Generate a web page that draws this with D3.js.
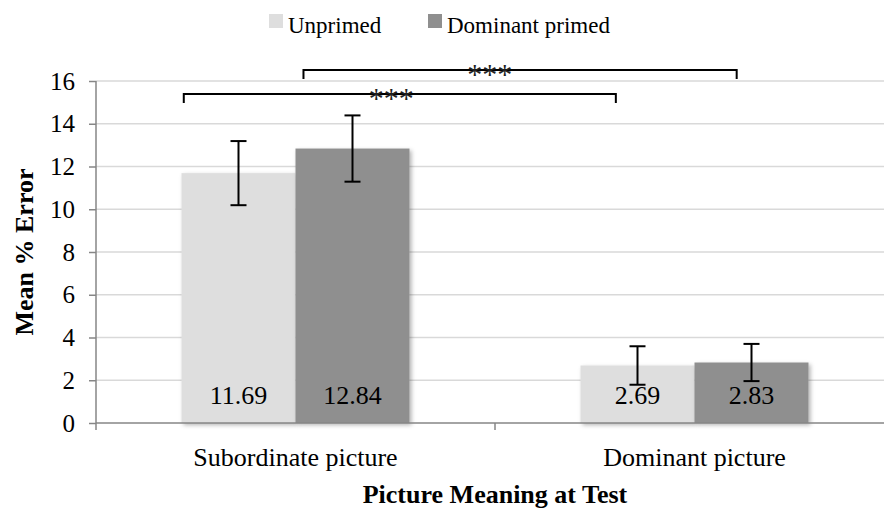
<!DOCTYPE html>
<html>
<head>
<meta charset="utf-8">
<script src="https://cdn.jsdelivr.net/npm/d3@7/dist/d3.min.js"></script>
<style>
  html, body { margin: 0; padding: 0; background: #fff; }
  svg { display: block; font-family: "Liberation Serif", "Times New Roman", serif; }
</style>
</head>
<body>
<div id="chart"></div>
<script>
// 数据
const categories = ['Subordinate picture', 'Dominant picture'];
const seriesNames = ['Unprimed', 'Dominant primed'];
const unprimed = [11.69, 2.69];
const dominantPrimed = [12.84, 2.83];
const unprimedErr = [1.5, 0.9];
const dominantPrimedErr = [1.55, 0.87];
const yTicks = [0, 2, 4, 6, 8, 10, 12, 14, 16];
// 显著性标注：series 索引 + 标记
const sigSeries = [0, 1];
const sigLabels = ['***', '***'];
const sigLevels = [15.39, 16.51];

const seriesValues = [unprimed, dominantPrimed];
const seriesErrs = [unprimedErr, dominantPrimedErr];
const colors = ['#dedede', '#8f8f8f'];
const serif = '"Liberation Serif", "Times New Roman", serif';

const width = 884, height = 511;
const margin = { left: 96, right: -10, top: 81, bottom: 88 };

const svg = d3.select('#chart').append('svg')
  .attr('width', width).attr('height', height)
  .attr('viewBox', `0 0 ${width} ${height}`)
  .attr('font-family', serif);

const defs = svg.append('defs');
const shadow = defs.append('filter').attr('id', 'shadow')
  .attr('x', '-10%').attr('y', '-10%').attr('width', '130%').attr('height', '130%');
shadow.append('feDropShadow')
  .attr('dx', 2).attr('dy', 2).attr('stdDeviation', 2)
  .attr('flood-color', '#000').attr('flood-opacity', 0.3);

const x0 = d3.scaleBand().domain(categories)
  .range([margin.left, width - margin.right]).paddingInner(0).paddingOuter(0);
const x1 = d3.scaleBand().domain(d3.range(seriesNames.length))
  .range([0, x0.bandwidth()]).paddingInner(0).paddingOuter(0.75);
const y = d3.scaleLinear().domain([0, 16]).range([height - margin.bottom, margin.top]);

// 网格线
svg.append('g').selectAll('line').data(yTicks.filter(d => d > 0)).join('line')
  .attr('x1', margin.left).attr('x2', width)
  .attr('y1', d => y(d)).attr('y2', d => y(d))
  .attr('stroke', '#d9d9d9').attr('stroke-width', 1.5);

// 柱子
const rows = [];
categories.forEach((c, ci) => seriesNames.forEach((s, si) => rows.push({
  c, ci, si, v: seriesValues[si][ci], e: seriesErrs[si][ci]
})));

svg.append('g').selectAll('rect').data(rows).join('rect')
  .attr('x', d => x0(d.c) + x1(d.si))
  .attr('y', d => y(d.v))
  .attr('width', x1.bandwidth())
  .attr('height', d => y(0) - y(d.v))
  .attr('fill', d => colors[d.si])
  .attr('filter', 'url(#shadow)');

// 坐标轴
const yAxis = svg.append('g')
  .attr('transform', `translate(${margin.left},0)`)
  .call(d3.axisLeft(y).tickValues(yTicks).tickSize(7).tickPadding(14).tickFormat(d3.format('d')))
  .attr('font-family', serif);
yAxis.select('.domain').attr('stroke', '#868686').attr('stroke-width', 1.5)
  .attr('d', `M0,${y(16)}V${y(0) + 7}`);
yAxis.selectAll('.tick line').attr('stroke', '#868686').attr('stroke-width', 1.5);
yAxis.selectAll('.tick text').attr('font-size', 25).attr('fill', '#000');

const xg = svg.append('g');
xg.append('line').attr('x1', margin.left).attr('x2', width)
  .attr('y1', y(0)).attr('y2', y(0))
  .attr('stroke', '#868686').attr('stroke-width', 1.5);
xg.selectAll('line.tk').data(categories.slice(1)).join('line').attr('class', 'tk')
  .attr('x1', d => x0(d)).attr('x2', d => x0(d))
  .attr('y1', y(0)).attr('y2', y(0) + 7)
  .attr('stroke', '#868686').attr('stroke-width', 1.5);
xg.selectAll('text').data(categories).join('text')
  .attr('x', d => x0(d) + x0.bandwidth() / 2)
  .attr('y', 466)
  .attr('text-anchor', 'middle')
  .attr('font-size', 26)
  .text(d => d);

// 误差线
const capW = 16;
const eb = svg.append('g').attr('stroke', '#000').attr('stroke-width', 2);
rows.forEach(d => {
  const cx = x0(d.c) + x1(d.si) + x1.bandwidth() / 2;
  const yt = y(d.v + d.e), yb = y(d.v - d.e);
  eb.append('line').attr('x1', cx).attr('x2', cx).attr('y1', yt).attr('y2', yb);
  eb.append('line').attr('x1', cx - capW / 2).attr('x2', cx + capW / 2).attr('y1', yt).attr('y2', yt);
  eb.append('line').attr('x1', cx - capW / 2).attr('x2', cx + capW / 2).attr('y1', yb).attr('y2', yb);
});

// 数值标签
svg.append('g').selectAll('text').data(rows).join('text')
  .attr('x', d => x0(d.c) + x1(d.si) + x1.bandwidth() / 2)
  .attr('y', y(0) - 19)
  .attr('text-anchor', 'middle')
  .attr('font-size', 26)
  .text(d => d3.format('.2f')(d.v));

// 显著性括号
const bracketFrac = [[0.02, 0.31], [0.07, 0.37]];
const labelFrac = [0.48, 0.43];
const drop = 9;
sigSeries.forEach((si, i) => {
  const xa = x0(categories[0]) + x1(si) + bracketFrac[i][0] * x1.bandwidth();
  const xb = x0(categories[1]) + x1(si) + bracketFrac[i][1] * x1.bandwidth();
  const yl = y(sigLevels[i]);
  svg.append('path')
    .attr('d', `M${xa},${yl + drop}V${yl}H${xb}V${yl + drop}`)
    .attr('fill', 'none').attr('stroke', '#000').attr('stroke-width', 2);
  svg.append('text')
    .attr('x', xa + (xb - xa) * labelFrac[i])
    .attr('y', yl + 14)
    .attr('text-anchor', 'middle')
    .attr('font-size', 30)
    .attr('fill', '#222')
    .text(sigLabels[i]);
});

// 图例
const legendX = [269, 428];
const lg = svg.append('g');
seriesNames.forEach((s, i) => {
  lg.append('rect').attr('x', legendX[i]).attr('y', 14).attr('width', 14).attr('height', 14)
    .attr('fill', colors[i]);
  lg.append('text').attr('x', legendX[i] + 19).attr('y', 33)
    .attr('font-size', 23).text(s);
});

// 轴标题
svg.append('text')
  .attr('transform', `translate(33,${(y(0) + y(16)) / 2}) rotate(-90)`)
  .attr('text-anchor', 'middle')
  .attr('font-size', 26).attr('font-weight', 'bold')
  .text('Mean % Error');
svg.append('text')
  .attr('x', x0(categories[1]))
  .attr('y', 503)
  .attr('text-anchor', 'middle')
  .attr('font-size', 26).attr('font-weight', 'bold')
  .text('Picture Meaning at Test');
</script>
</body>
</html>
